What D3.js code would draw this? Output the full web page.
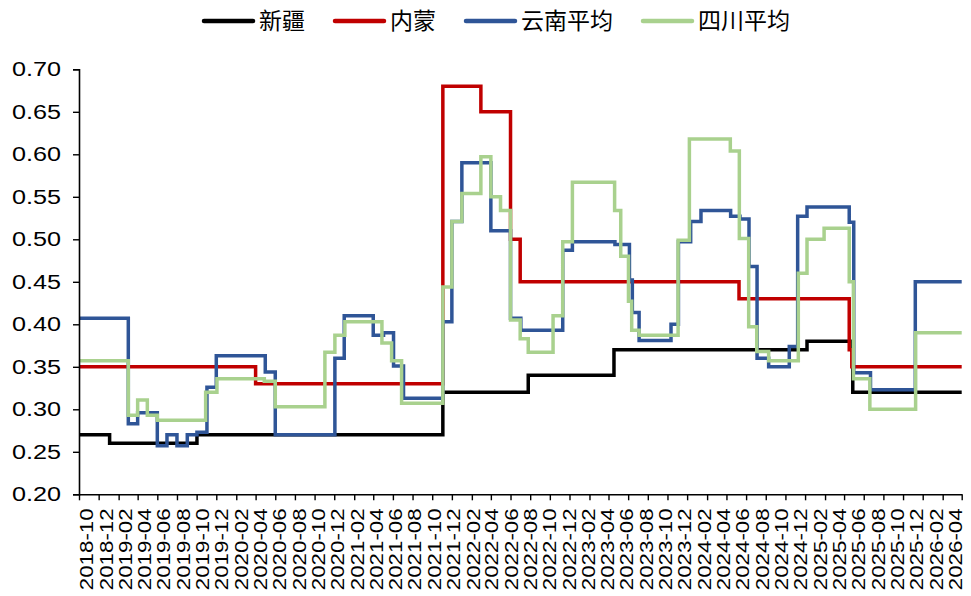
<!DOCTYPE html>
<html>
<head>
<meta charset="utf-8">
<script src="https://cdn.jsdelivr.net/npm/d3@7/dist/d3.min.js"></script>
<style>
  body { margin: 0; background: #ffffff; }
  svg { display: block; }
</style>
</head>
<body>
<svg id="chart" width="971" height="596"></svg>
<script>
// Series names and colours
const seriesNames = ["新疆", "内蒙", "云南平均", "四川平均"];
const seriesColors = ["#000000", "#C00000", "#2F5597", "#A9D18E"];

// Step series: [date the value takes effect, value]
const xinjiang = [
  ["2018-10-01", 0.27], ["2019-01-04", 0.26], ["2019-10-02", 0.27], ["2021-11-03", 0.32],
  ["2022-07-26", 0.34], ["2023-04-18", 0.37], ["2024-12-07", 0.38], ["2025-04-28", 0.32]
];
const neimeng = [
  ["2018-10-01", 0.35], ["2020-04-01", 0.33], ["2021-11-03", 0.68], ["2022-03-01", 0.65],
  ["2022-06-01", 0.50], ["2022-07-01", 0.45], ["2024-05-10", 0.43], ["2025-04-17", 0.37],
  ["2025-04-25", 0.35]
];
const yunnan = [
  ["2018-10-01", 0.407], ["2019-03-03", 0.283], ["2019-04-01", 0.296], ["2019-06-01", 0.257],
  ["2019-07-01", 0.270], ["2019-08-01", 0.257], ["2019-09-02", 0.270], ["2019-10-02", 0.273],
  ["2019-11-02", 0.326], ["2019-12-01", 0.363], ["2020-05-01", 0.344], ["2020-06-01", 0.270],
  ["2020-12-03", 0.360], ["2021-01-01", 0.410], ["2021-04-01", 0.387], ["2021-05-03", 0.390],
  ["2021-06-03", 0.351], ["2021-07-04", 0.313], ["2021-11-03", 0.403], ["2021-12-01", 0.521],
  ["2022-01-01", 0.590], ["2022-04-01", 0.510], ["2022-06-01", 0.407], ["2022-07-03", 0.393],
  ["2022-11-10", 0.487], ["2022-12-10", 0.497], ["2023-04-21", 0.494], ["2023-06-05", 0.452],
  ["2023-06-14", 0.414], ["2023-07-05", 0.381], ["2023-10-12", 0.400], ["2023-11-04", 0.497],
  ["2023-12-12", 0.521], ["2024-01-13", 0.534], ["2024-04-14", 0.527], ["2024-05-13", 0.524],
  ["2024-06-10", 0.468], ["2024-07-05", 0.360], ["2024-08-10", 0.350], ["2024-10-13", 0.374],
  ["2024-11-08", 0.527], ["2024-12-07", 0.538], ["2025-04-17", 0.520], ["2025-05-01", 0.343],
  ["2025-06-22", 0.323], ["2025-11-08", 0.450]
];
const sichuan = [
  ["2018-10-01", 0.357], ["2019-03-03", 0.293], ["2019-04-01", 0.311], ["2019-05-01", 0.293],
  ["2019-06-01", 0.287], ["2019-10-29", 0.320], ["2019-12-03", 0.336], ["2020-04-28", 0.333],
  ["2020-06-01", 0.303], ["2020-11-02", 0.367], ["2020-12-03", 0.387], ["2021-01-03", 0.403],
  ["2021-04-28", 0.378], ["2021-05-28", 0.357], ["2021-06-28", 0.307], ["2021-11-03", 0.444],
  ["2021-12-01", 0.521], ["2022-01-01", 0.554], ["2022-03-01", 0.597], ["2022-04-01", 0.550],
  ["2022-05-01", 0.534], ["2022-06-01", 0.405], ["2022-07-01", 0.383], ["2022-07-26", 0.367],
  ["2022-10-11", 0.410], ["2022-11-10", 0.497], ["2022-12-10", 0.567], ["2023-04-20", 0.534],
  ["2023-05-09", 0.480], ["2023-06-02", 0.427], ["2023-06-12", 0.393], ["2023-07-05", 0.387],
  ["2023-11-03", 0.499], ["2023-12-08", 0.618], ["2024-04-13", 0.604], ["2024-05-11", 0.501],
  ["2024-06-09", 0.397], ["2024-07-04", 0.368], ["2024-08-10", 0.357], ["2024-11-10", 0.460],
  ["2024-12-07", 0.500], ["2025-01-29", 0.513], ["2025-04-17", 0.450], ["2025-04-30", 0.336],
  ["2025-06-20", 0.300], ["2025-11-09", 0.390]
];
const seriesData = [xinjiang, neimeng, yunnan, sichuan];

// Axis ranges and ticks
const xStart = "2018-10-01";
const xEnd = "2026-04-01";
const yTickValues = [0.20, 0.25, 0.30, 0.35, 0.40, 0.45, 0.50, 0.55, 0.60, 0.65, 0.70];
const xTickLabels = [
  "2018-10", "2018-12", "2019-02", "2019-04", "2019-06", "2019-08", "2019-10", "2019-12",
  "2020-02", "2020-04", "2020-06", "2020-08", "2020-10", "2020-12", "2021-02", "2021-04",
  "2021-06", "2021-08", "2021-10", "2021-12", "2022-02", "2022-04", "2022-06", "2022-08",
  "2022-10", "2022-12", "2023-02", "2023-04", "2023-06", "2023-08", "2023-10", "2023-12",
  "2024-02", "2024-04", "2024-06", "2024-08", "2024-10", "2024-12", "2025-02", "2025-04",
  "2025-06", "2025-08", "2025-10", "2025-12", "2026-02", "2026-04"
];

const parseDay = d3.timeParse("%Y-%m-%d");
const parseMonth = d3.timeParse("%Y-%m");
const fmtMonth = d3.timeFormat("%Y-%m");

const plot = { left: 79, right: 961.7, top: 69.3, bottom: 494.3 };

const x = d3.scaleTime()
  .domain([parseDay(xStart), parseDay(xEnd)])
  .range([plot.left, plot.right]);
const y = d3.scaleLinear()
  .domain([0.2, 0.7])
  .range([plot.bottom, plot.top]);

// Date labels are packed slightly tighter than the ticks so the end ones stay inside
const labelX = d3.scaleLinear()
  .domain([plot.left, plot.right])
  .range([plot.left + 7, plot.right - 7.5]);

const svg = d3.select("#chart");
svg.append("rect").attr("width", 971).attr("height", 596).attr("fill", "#fff");

// Lines (last value held to the end of the axis)
const line = d3.line()
  .x(d => x(d[0]))
  .y(d => y(d[1]))
  .curve(d3.curveStepAfter);

seriesData.forEach((s, i) => {
  const pts = s.map(d => [parseDay(d[0]), d[1]]);
  pts.push([parseDay(xEnd), s[s.length - 1][1]]);
  svg.append("path")
    .datum(pts)
    .attr("fill", "none")
    .attr("stroke", seriesColors[i])
    .attr("stroke-width", 3.5)
    .attr("stroke-linejoin", "miter")
    .attr("stroke-linecap", "butt")
    .attr("d", line);
});

// Y axis
const yAxis = svg.append("g")
  .attr("transform", `translate(${plot.left},0)`)
  .call(d3.axisLeft(y).tickValues(yTickValues).tickFormat(d3.format(".2f")).tickSize(6).tickPadding(12));
yAxis.select(".domain").attr("stroke", "#000").attr("stroke-width", 1.6);
yAxis.selectAll(".tick line").attr("stroke", "#000").attr("stroke-width", 1.4);
yAxis.selectAll(".tick text")
  .attr("fill", "#000")
  .style("font-family", "'Liberation Sans', Arial, sans-serif")
  .style("font-size", "20px")
  .attr("textLength", 49)
  .attr("lengthAdjust", "spacingAndGlyphs");

// X axis
const xAxis = svg.append("g")
  .attr("transform", `translate(0,${plot.bottom})`)
  .call(d3.axisBottom(x).tickValues(xTickLabels.map(parseMonth)).tickFormat(fmtMonth).tickSize(6).tickSizeOuter(0));
xAxis.select(".domain").attr("stroke", "#000").attr("stroke-width", 1.6);
xAxis.selectAll(".tick line").attr("stroke", "#000").attr("stroke-width", 1.4);
xAxis.selectAll(".tick text")
  .attr("fill", "#000")
  .style("font-family", "'Liberation Sans', Arial, sans-serif")
  .style("font-size", "19px")
  .attr("text-anchor", "end")
  .attr("x", 0)
  .attr("y", 0)
  .attr("dy", "0.36em")
  .attr("transform", d => `translate(${labelX(x(d)) - x(d)},14) rotate(-90)`)
  .attr("textLength", 82)
  .attr("lengthAdjust", "spacingAndGlyphs");

// Legend
const legend = svg.append("g").attr("class", "legend");
const sampleLen = 49, sampleGap = 6, itemGap = 30, legendY = 21, legendCenter = 497;
const items = seriesNames.map((name, i) => {
  const g = legend.append("g");
  g.append("line")
    .attr("x1", 0).attr("x2", sampleLen)
    .attr("y1", 0).attr("y2", 0)
    .attr("stroke", seriesColors[i]).attr("stroke-width", 4.5)
    .attr("stroke-linecap", "round");
  const t = g.append("text")
    .attr("x", sampleLen + sampleGap)
    .attr("y", 0)
    .attr("dy", "0.36em")
    .style("font-family", "'Noto Sans CJK SC', sans-serif")
    .style("font-size", "23px")
    .attr("fill", "#000")
    .text(name);
  return { g, w: sampleLen + sampleGap + t.node().getComputedTextLength() };
});
const total = d3.sum(items, d => d.w) + itemGap * (items.length - 1);
let cx = legendCenter - total / 2;
items.forEach(it => {
  it.g.attr("transform", `translate(${cx},${legendY})`);
  cx += it.w + itemGap;
});
</script>
</body>
</html>
